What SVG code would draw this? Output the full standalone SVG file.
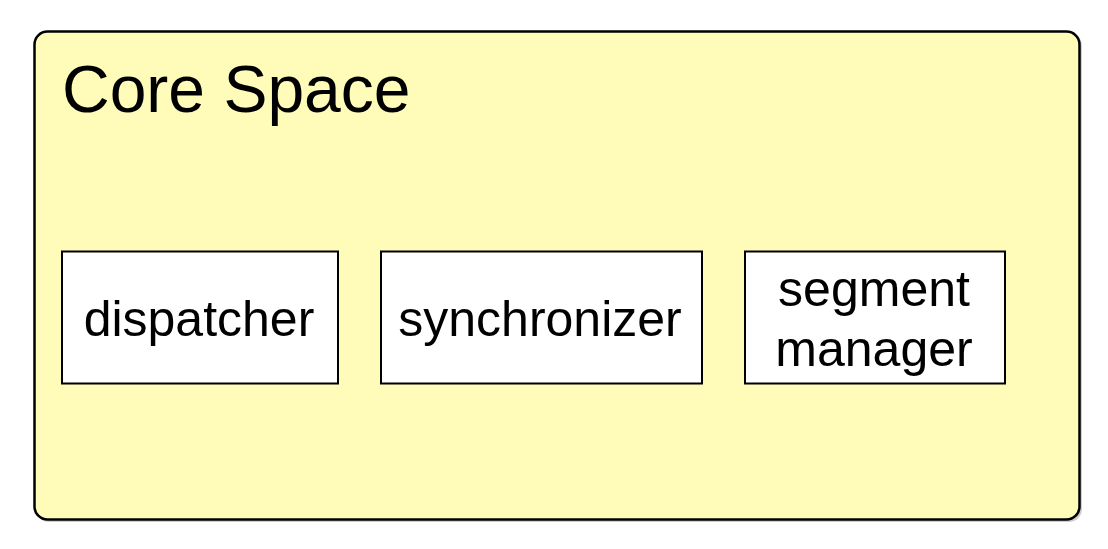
<svg xmlns="http://www.w3.org/2000/svg" width="1108" height="549" viewBox="0 0 1108 549">
<style>
.box{fill:#ffffff;stroke:#000;stroke-width:2}
.lbl{font-family:"Liberation Sans",Arial,sans-serif;font-size:50px;fill:#000;text-anchor:middle}
</style>
<rect x="0" y="0" width="1108" height="549" fill="#ffffff"/>
<g id="core-space">
<rect x="36" y="33" width="1046" height="489" rx="13" fill="#a0a0a0" opacity="0.5"/>
<rect x="34.5" y="31.5" width="1045" height="488" rx="13" fill="#fffbb8" stroke="#000" stroke-width="2.5"/>
<text x="62" y="112" style="font-family:'Liberation Sans',Arial,sans-serif;font-size:66px;fill:#000">Core Space</text>
</g>
<g id="dispatcher">
<rect class="box" x="62" y="251.5" width="276" height="132"/>
<text class="lbl" x="199" y="336">dispatcher</text>
</g>
<g id="synchronizer">
<rect class="box" x="381" y="251.5" width="321" height="132"/>
<text class="lbl" x="540" y="336">synchronizer</text>
</g>
<g id="segment-manager">
<rect class="box" x="745" y="251.5" width="260" height="132"/>
<text class="lbl" x="874" y="306">segment</text>
<text class="lbl" x="874" y="366">manager</text>
</g>
<g id="connectors"></g>
</svg>
